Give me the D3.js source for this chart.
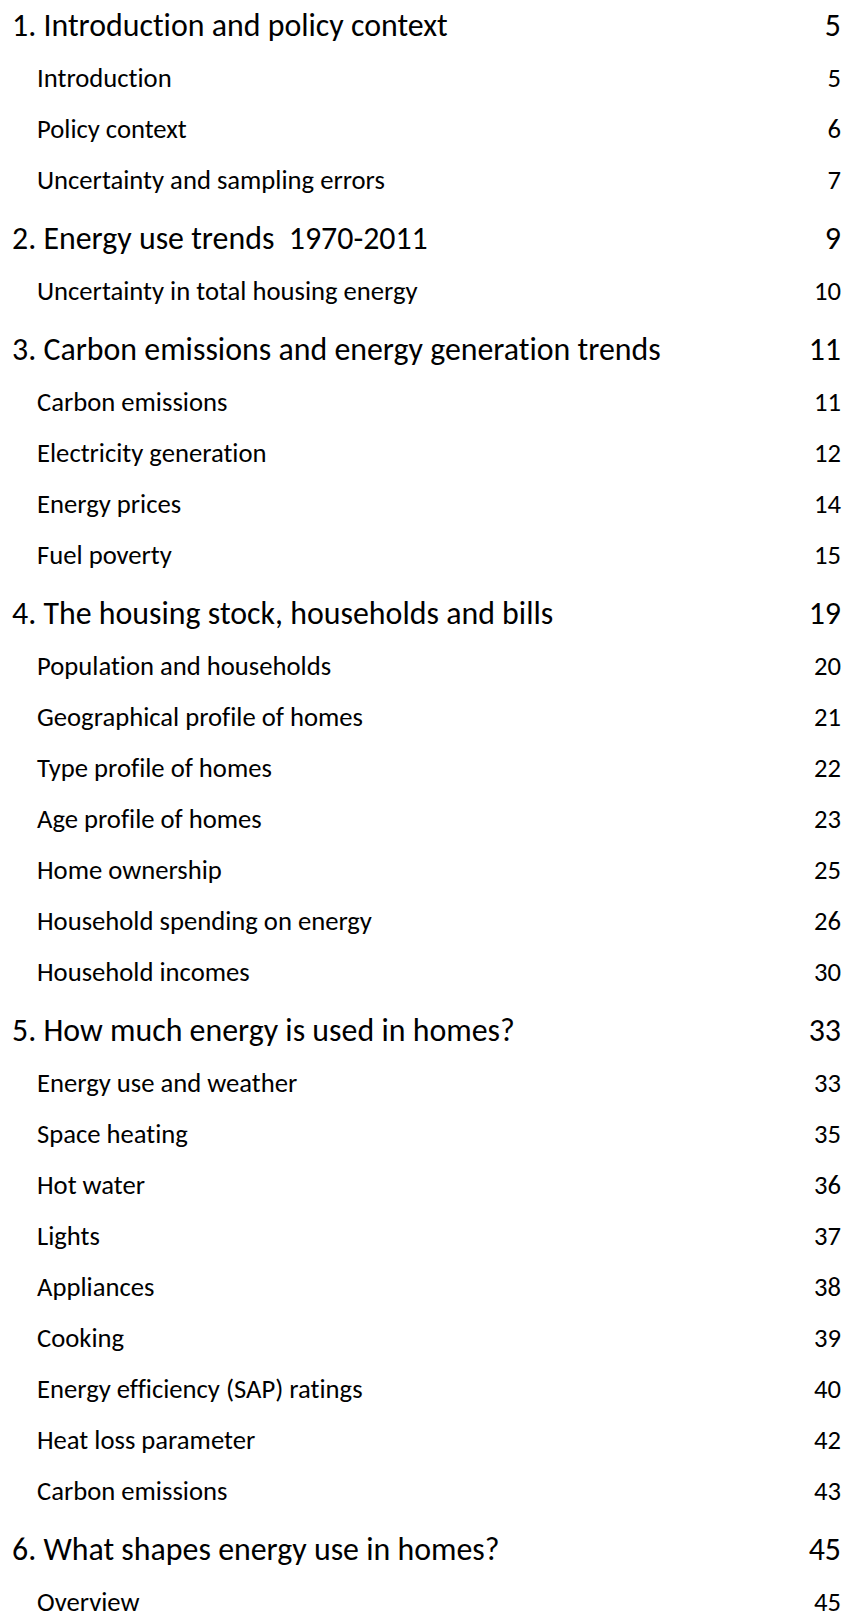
<!DOCTYPE html>
<html>
<head>
<meta charset="utf-8">
<script src="https://cdn.jsdelivr.net/npm/d3@7"></script>
<style>
  html, body { margin: 0; padding: 0; background: #fff; }
  svg { display: block; }
  text { font-family: Carlito, Calibri, Lato, "Open Sans", sans-serif; fill: #000; white-space: pre;
         font-variant-ligatures: none; font-feature-settings: "liga" 0, "clig" 0; }
</style>
</head>
<body>
<svg id="toc" width="847" height="1613"></svg>
<script>
// ---- data ----
const headings = [
  "1. Introduction and policy context",
  "2. Energy use trends  1970-2011",
  "3. Carbon emissions and energy generation trends",
  "4. The housing stock, households and bills",
  "5. How much energy is used in homes?",
  "6. What shapes energy use in homes?"
];
const headingPages = [5, 9, 11, 19, 33, 45];

const subsections = [
  "Introduction", "Policy context", "Uncertainty and sampling errors",
  "Uncertainty in total housing energy",
  "Carbon emissions", "Electricity generation", "Energy prices", "Fuel poverty",
  "Population and households", "Geographical profile of homes", "Type profile of homes",
  "Age profile of homes", "Home ownership", "Household spending on energy", "Household incomes",
  "Energy use and weather", "Space heating", "Hot water", "Lights", "Appliances", "Cooking",
  "Energy efficiency (SAP) ratings", "Heat loss parameter", "Carbon emissions",
  "Overview"
];
const subsectionPages = [5, 6, 7, 10, 11, 12, 14, 15, 20, 21, 22, 23, 25, 26, 30,
  33, 35, 36, 37, 38, 39, 40, 42, 43, 45];
const subsectionParent = [0, 0, 0, 1, 2, 2, 2, 2, 3, 3, 3, 3, 3, 3, 3,
  4, 4, 4, 4, 4, 4, 4, 4, 4, 5];

// ---- build rows ----
const rows = [];
headings.forEach((h, i) => {
  rows.push({ level: 0, title: h, page: headingPages[i] });
  subsections.forEach((s, j) => {
    if (subsectionParent[j] === i) rows.push({ level: 1, title: s, page: subsectionPages[j] });
  });
});

// layout: cumulative vertical offsets (baselines)
const firstBaseline = 36;
const gapSub = 51;         // sub -> sub
const gapAfterHead = 50.5; // heading -> sub
const gapBeforeHead = 60.5;// sub -> heading
let yAcc = firstBaseline;
rows.forEach((r, i) => {
  if (i > 0) {
    const prev = rows[i - 1];
    if (r.level === 0) yAcc += gapBeforeHead;
    else if (prev.level === 0) yAcc += gapAfterHead;
    else yAcc += gapSub;
  }
  r.cum = yAcc;
});
const y = d3.scaleLinear().domain([0, 1613]).range([0, 1613]);

const svg = d3.select("#toc");
const xHead = 12, xSub = 37, xRight = 841;

// fit font size to the measured widths in the reference
function fitSize(str, base, target) {
  const t = svg.append("text").attr("font-size", base).text(str);
  const w = t.node().getComputedTextLength();
  t.remove();
  return base * target / w;
}
const headSize = fitSize(headings[0], 30, 436);
const subSize = fitSize(subsections[2], 22, 348);

const g = svg.selectAll("g.row").data(rows).join("g").attr("class", "row")
  .attr("transform", d => `translate(0,${y(d.cum)})`);

g.append("text")
  .attr("x", d => d.level === 0 ? xHead : xSub)
  .attr("font-size", d => d.level === 0 ? headSize : subSize)
  .text(d => d.title);

g.append("text")
  .attr("x", xRight)
  .attr("text-anchor", "end")
  .attr("font-size", d => d.level === 0 ? headSize : subSize)
  .text(d => d.page);
</script>
</body>
</html>
